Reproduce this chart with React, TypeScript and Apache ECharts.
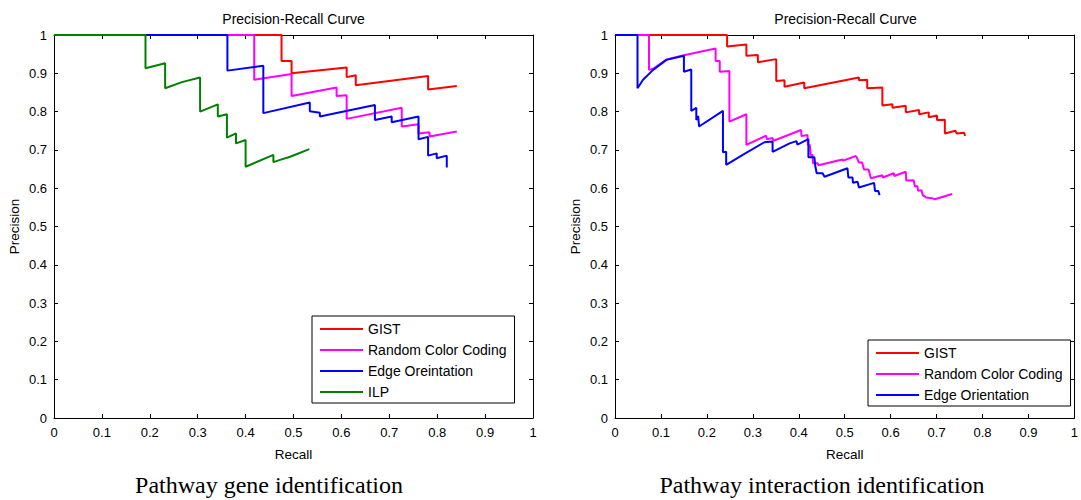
import { useEffect, useRef } from "react";
import * as echarts from "echarts";

type Pt = [number, number];

// Pathway gene identification: (recall, precision)
const geneGist: Pt[] = [
  [0, 1], [0.475, 1], [0.475, 0.932], [0.496, 0.932], [0.496, 0.9], [0.611, 0.915],
  [0.611, 0.89], [0.63, 0.895], [0.63, 0.869], [0.781, 0.893], [0.781, 0.858], [0.841, 0.867],
];
const geneColorCoding: Pt[] = [
  [0, 1], [0.418, 1], [0.418, 0.883], [0.496, 0.898], [0.496, 0.841], [0.59, 0.863],
  [0.59, 0.841], [0.611, 0.843], [0.611, 0.781], [0.726, 0.81], [0.726, 0.761], [0.761, 0.767],
  [0.761, 0.743], [0.784, 0.746], [0.784, 0.735], [0.841, 0.748],
];
const geneEdge: Pt[] = [
  [0, 1], [0.362, 1], [0.362, 0.907], [0.437, 0.92], [0.437, 0.796], [0.534, 0.824],
  [0.534, 0.801], [0.555, 0.797], [0.555, 0.787], [0.67, 0.817], [0.67, 0.778], [0.705, 0.787],
  [0.705, 0.772], [0.761, 0.787], [0.761, 0.728], [0.781, 0.734], [0.781, 0.685], [0.799, 0.691],
  [0.799, 0.678], [0.82, 0.685], [0.82, 0.654],
];
const geneIlp: Pt[] = [
  [0, 1], [0.191, 1], [0.191, 0.913], [0.232, 0.926], [0.232, 0.861], [0.267, 0.877],
  [0.305, 0.889], [0.305, 0.8], [0.342, 0.819], [0.342, 0.787], [0.361, 0.793], [0.361, 0.732],
  [0.38, 0.743], [0.38, 0.717], [0.4, 0.726], [0.4, 0.656], [0.458, 0.687], [0.458, 0.668],
  [0.472, 0.674], [0.493, 0.682], [0.533, 0.702],
];

// Pathway interaction identification: (recall, precision)
const interGist: Pt[] = [
  [0, 1], [0.244, 1], [0.244, 0.97], [0.286, 0.975], [0.286, 0.946], [0.311, 0.948],
  [0.311, 0.929], [0.351, 0.937], [0.351, 0.88], [0.369, 0.882], [0.369, 0.865], [0.412, 0.876],
  [0.412, 0.861], [0.531, 0.889], [0.531, 0.882], [0.549, 0.883], [0.549, 0.861], [0.582, 0.863],
  [0.582, 0.816], [0.604, 0.819], [0.604, 0.81], [0.633, 0.815], [0.633, 0.798], [0.662, 0.804],
  [0.662, 0.793], [0.683, 0.798], [0.683, 0.785], [0.701, 0.79], [0.701, 0.778], [0.718, 0.779],
  [0.718, 0.743], [0.741, 0.75], [0.744, 0.743], [0.76, 0.745], [0.762, 0.736],
];
const interColorCoding: Pt[] = [
  [0, 1], [0.074, 1], [0.074, 0.909], [0.083, 0.912], [0.112, 0.936], [0.15, 0.947],
  [0.219, 0.965], [0.219, 0.932], [0.228, 0.932], [0.228, 0.904], [0.249, 0.906], [0.249, 0.774],
  [0.286, 0.793], [0.286, 0.713], [0.329, 0.737], [0.331, 0.728], [0.343, 0.731], [0.345, 0.724],
  [0.405, 0.752], [0.406, 0.736], [0.419, 0.739], [0.42, 0.713], [0.424, 0.713], [0.426, 0.687],
  [0.43, 0.687], [0.431, 0.665], [0.441, 0.665], [0.443, 0.66], [0.495, 0.675], [0.497, 0.672],
  [0.524, 0.684], [0.526, 0.681], [0.531, 0.667], [0.538, 0.667], [0.542, 0.649], [0.552, 0.649],
  [0.557, 0.626], [0.582, 0.634], [0.583, 0.628], [0.607, 0.639], [0.608, 0.632], [0.633, 0.643],
  [0.634, 0.62], [0.65, 0.621], [0.653, 0.604], [0.658, 0.606], [0.66, 0.593], [0.667, 0.595],
  [0.67, 0.582], [0.677, 0.576], [0.69, 0.574], [0.696, 0.571], [0.734, 0.585],
];
const interEdge: Pt[] = [
  [0, 1], [0.049, 1], [0.049, 0.861], [0.061, 0.883], [0.083, 0.909], [0.112, 0.935],
  [0.15, 0.946], [0.15, 0.904], [0.166, 0.91], [0.166, 0.802], [0.177, 0.81], [0.177, 0.778],
  [0.181, 0.789], [0.183, 0.761], [0.235, 0.802], [0.235, 0.694], [0.242, 0.695], [0.242, 0.661],
  [0.278, 0.687], [0.325, 0.72], [0.343, 0.722], [0.343, 0.695], [0.38, 0.717], [0.395, 0.723],
  [0.397, 0.714], [0.421, 0.728], [0.421, 0.681], [0.434, 0.681], [0.436, 0.658], [0.439, 0.639],
  [0.452, 0.639], [0.456, 0.63], [0.506, 0.652], [0.508, 0.628], [0.517, 0.628], [0.518, 0.614],
  [0.528, 0.617], [0.531, 0.602], [0.564, 0.614], [0.566, 0.593], [0.573, 0.593], [0.576, 0.582],
];

const geneLegend = ["GIST", "Random Color Coding", "Edge Oreintation", "ILP"];
const interLegend = ["GIST", "Random Color Coding", "Edge Orientation"];

const RED = "#ff0000";
const MAGENTA = "#ff00ff";
const BLUE = "#0000ff";
const GREEN = "#008000";

const SANS = "'Liberation Sans', Arial, Helvetica, sans-serif";
const SERIF = "'Liberation Serif', 'Times New Roman', serif";

const panels = [
  { left: 54, top: 35, width: 479, height: 383 },
  { left: 615, top: 35, width: 461, height: 383 },
];

function xAxes(gridIndex: number) {
  const base = {
    type: "value" as const,
    gridIndex,
    min: 0,
    max: 1,
    interval: 0.1,
    splitLine: { show: false },
    axisLine: { show: true, onZero: false, lineStyle: { color: "#000", width: 1 } },
    axisTick: { show: true, inside: true, length: 4, lineStyle: { color: "#000" } },
  };
  return [
    {
      ...base,
      position: "bottom",
      axisLabel: { color: "#000", fontSize: 13, margin: 8, fontFamily: SANS },
      name: "Recall",
      nameLocation: "middle",
      nameGap: 29,
      nameTextStyle: { color: "#000", fontSize: 13.5, fontFamily: SANS },
    },
    { ...base, position: "top", axisLabel: { show: false } },
  ];
}

function yAxes(gridIndex: number) {
  const base = {
    type: "value" as const,
    gridIndex,
    min: 0,
    max: 1,
    interval: 0.1,
    splitLine: { show: false },
    axisLine: { show: true, onZero: false, lineStyle: { color: "#000", width: 1 } },
    axisTick: { show: true, inside: true, length: 4, lineStyle: { color: "#000" } },
  };
  return [
    {
      ...base,
      position: "left",
      axisLabel: { color: "#000", fontSize: 13, margin: 7, fontFamily: SANS },
      name: "Precision",
      nameLocation: "middle",
      nameGap: 33,
      nameTextStyle: { color: "#000", fontSize: 13.5, fontFamily: SANS },
    },
    { ...base, position: "right", axisLabel: { show: false } },
  ];
}

function curve(name: string, data: Pt[], color: string, panel: number) {
  return {
    type: "line" as const,
    name,
    data,
    xAxisIndex: panel * 2,
    yAxisIndex: panel * 2,
    color,
    symbol: "none",
    showSymbol: false,
    lineStyle: { color, width: 2 },
    emphasis: { disabled: true },
  };
}

function legendBox(data: string[], left: number, top: number) {
  return {
    orient: "vertical" as const,
    left,
    top,
    padding: [6, 8, 4, 8],
    itemGap: 7,
    itemWidth: 43,
    itemHeight: 2,
    icon: "rect",
    borderColor: "#000",
    borderWidth: 1,
    backgroundColor: "#fff",
    selectedMode: false,
    textStyle: { color: "#000", fontSize: 14, fontFamily: SANS, lineHeight: 14 },
    data,
  };
}

export default function App() {
  const ref = useRef<HTMLDivElement>(null);

  useEffect(() => {
    if (!ref.current) return;
    const chart = echarts.init(ref.current, undefined, { renderer: "svg" });
    chart.setOption({
      animation: false,
      backgroundColor: "#fff",
      grid: panels.map((p) => ({ ...p, containLabel: false })),
      xAxis: [...xAxes(0), ...xAxes(1)],
      yAxis: [...yAxes(0), ...yAxes(1)],
      legend: [legendBox(geneLegend, 312, 316), legendBox(interLegend, 868, 340)],
      series: [
        curve("GIST", geneGist, RED, 0),
        curve("Random Color Coding", geneColorCoding, MAGENTA, 0),
        curve("Edge Oreintation", geneEdge, BLUE, 0),
        curve("ILP", geneIlp, GREEN, 0),
        curve("GIST", interGist, RED, 1),
        curve("Random Color Coding", interColorCoding, MAGENTA, 1),
        curve("Edge Orientation", interEdge, BLUE, 1),
      ],
      graphic: [
        ...panels.map((p) => ({
          type: "text",
          x: p.left + p.width / 2,
          y: 19,
          style: {
            text: "Precision-Recall Curve",
            fill: "#000",
            font: `14px ${SANS}`,
            textAlign: "center",
            textVerticalAlign: "middle",
          },
        })),
        {
          type: "text",
          x: 269,
          y: 485,
          style: {
            text: "Pathway gene identification",
            fill: "#000",
            font: `24px ${SERIF}`,
            textAlign: "center",
            textVerticalAlign: "middle",
          },
        },
        {
          type: "text",
          x: 822,
          y: 485,
          style: {
            text: "Pathway interaction identification",
            fill: "#000",
            font: `24px ${SERIF}`,
            textAlign: "center",
            textVerticalAlign: "middle",
          },
        },
      ],
    });
    return () => chart.dispose();
  }, []);

  return (
    <div
      ref={ref}
      style={{ position: "absolute", left: 0, top: 0, width: 1081, height: 500, background: "#fff" }}
    />
  );
}
